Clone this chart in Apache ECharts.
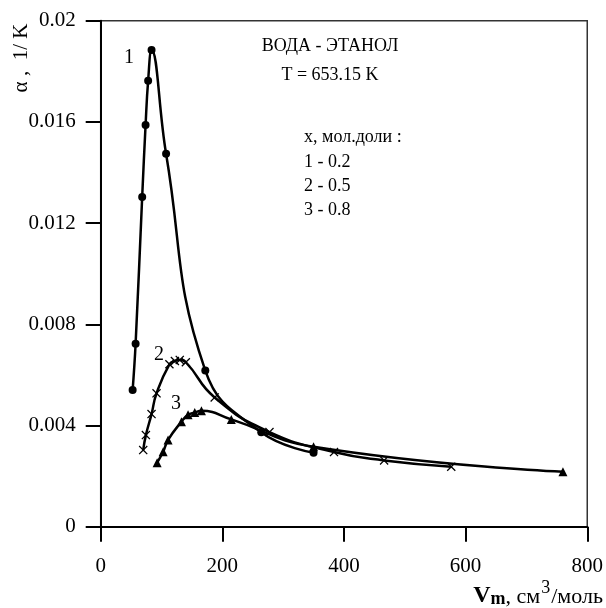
<!DOCTYPE html>
<html>
<head>
<meta charset="utf-8">
<script src="https://cdn.jsdelivr.net/npm/echarts@6/dist/echarts.min.js"></script>
<style>html,body{margin:0;padding:0;background:#fff}#c{width:606px;height:608px}</style>
</head>
<body>
<div id="c"></div>
<script>
// Curve 1: x = 0.2 (circles)
var s1x = [52.5, 57.4, 68.2, 73.8, 78.0, 83.6, 107.5, 172, 264, 350];
var s1y = [0.0054, 0.00723, 0.01303, 0.01588, 0.01763, 0.01884, 0.01474, 0.00617, 0.00373, 0.00292];
// Curve 2: x = 0.5 (crosses)
var s2x = [69.9, 74.3, 83.6, 91.8, 113, 122, 130, 140, 187.4, 277.5, 383.6, 466, 576.4];
var s2y = [0.00303, 0.00362, 0.00445, 0.00527, 0.00642, 0.00655, 0.00659, 0.0065, 0.00511, 0.00374, 0.00295, 0.00262, 0.00237];
// Curve 3: x = 0.8 (triangles)
var s3x = [92.8, 102.6, 110.8, 132.8, 143.6, 154.6, 165.6, 214.8, 350, 760];
var s3y = [0.00253, 0.00296, 0.00343, 0.00415, 0.00442, 0.00451, 0.00458, 0.00424, 0.00316, 0.00217];

var xTicks = [0, 200, 400, 600, 800];
var yTicks = [0, 0.004, 0.008, 0.012, 0.016, 0.02];

function pairs(xs, ys){ return xs.map(function(v,i){ return [v, ys[i]]; }); }

var FONT = 'Liberation Serif';
var crossPath = 'path://M0,1L1,0L5,4L9,0L10,1L6,5L10,9L9,10L5,6L1,10L0,9L4,5Z';

var chart = echarts.init(document.getElementById('c'), null, {renderer:'canvas'});
chart.setOption({
  animation: false,
  backgroundColor: '#fff',
  grid: {left: 100.7, right: 17.3, top: 20.7, bottom: 81.3, show: true, borderColor: '#333', borderWidth: 1.5, backgroundColor: 'transparent'},
  xAxis: {
    type: 'value', min: xTicks[0], max: xTicks[xTicks.length-1], interval: 200,
    axisLine: {lineStyle: {color: '#000', width: 2}},
    axisTick: {inside: false, length: 15, lineStyle: {color: '#000', width: 2}},
    axisLabel: {color: '#000', fontFamily: FONT, fontSize: 21, margin: 29},
    splitLine: {show: false}
  },
  yAxis: {
    type: 'value', min: yTicks[0], max: yTicks[yTicks.length-1], interval: 0.004,
    axisLine: {lineStyle: {color: '#000', width: 2}},
    axisTick: {inside: false, length: 15, lineStyle: {color: '#000', width: 2}},
    axisLabel: {color: '#000', fontFamily: FONT, fontSize: 21, margin: 25,
      formatter: function(v){ return String(+v.toFixed(3)); }},
    splitLine: {show: false}
  },
  series: [
    {type: 'line', data: pairs(s1x, s1y), smooth: 0.45, symbol: 'circle', symbolSize: 8,
     lineStyle: {color: '#000', width: 2.5}, itemStyle: {color: '#000'}},
    {type: 'line', data: pairs(s2x, s2y), smooth: 0.5, symbol: crossPath, symbolSize: 9,
     lineStyle: {color: '#000', width: 2.5}, itemStyle: {color: '#000'}},
    {type: 'line', data: pairs(s3x, s3y), smooth: 0.5, symbol: 'triangle', symbolSize: 9,
     lineStyle: {color: '#000', width: 2.5}, itemStyle: {color: '#000'}}
  ],
  graphic: [
    {type: 'text', left: 124, top: 48, style: {text: '1', font: '20px "Liberation Serif"', fill: '#000'}},
    {type: 'text', left: 154, top: 345, style: {text: '2', font: '20px "Liberation Serif"', fill: '#000'}},
    {type: 'text', left: 171, top: 394, style: {text: '3', font: '20px "Liberation Serif"', fill: '#000'}},
    {type: 'text', x: 330, y: 46, style: {text: 'ВОДА - ЭТАНОЛ', font: '18px "Liberation Serif"', fill: '#000', textAlign: 'center', textVerticalAlign: 'middle'}},
    {type: 'text', x: 330, y: 75, style: {text: 'T = 653.15 K', font: '18px "Liberation Serif"', fill: '#000', textAlign: 'center', textVerticalAlign: 'middle'}},
    {type: 'text', x: 304, y: 137, style: {text: 'x, мол.доли :', font: '18px "Liberation Serif"', fill: '#000', textVerticalAlign: 'middle'}},
    {type: 'text', x: 304, y: 162, style: {text: '1 - 0.2', font: '18px "Liberation Serif"', fill: '#000', textVerticalAlign: 'middle'}},
    {type: 'text', x: 304, y: 186, style: {text: '2 - 0.5', font: '18px "Liberation Serif"', fill: '#000', textVerticalAlign: 'middle'}},
    {type: 'text', x: 304, y: 210, style: {text: '3 - 0.8', font: '18px "Liberation Serif"', fill: '#000', textVerticalAlign: 'middle'}},
    {type: 'text', x: 21, y: 58, rotation: Math.PI/2,
     style: {text: 'α ,  1/ K', font: '21px "Liberation Serif"', fill: '#000', textAlign: 'center', textVerticalAlign: 'middle'}},
    {type: 'text', right: 3, top: 579,
     style: {rich: {
        v: {fontFamily: FONT, fontWeight: 'bold', fontSize: 24, fill: '#000', verticalAlign: 'bottom'},
        m: {fontFamily: FONT, fontWeight: 'bold', fontSize: 18, fill: '#000', padding: [10,0,0,0], verticalAlign: 'bottom'},
        t: {fontFamily: FONT, fontSize: 22, fill: '#000', verticalAlign: 'bottom'},
        s: {fontFamily: FONT, fontSize: 18, fill: '#000', padding: [0,1,11,1], verticalAlign: 'bottom'}
      }, text: '{v|V}{m|m}{t|, см}{s|3}{t|/моль}'}}
  ]
});
</script>
</body>
</html>
